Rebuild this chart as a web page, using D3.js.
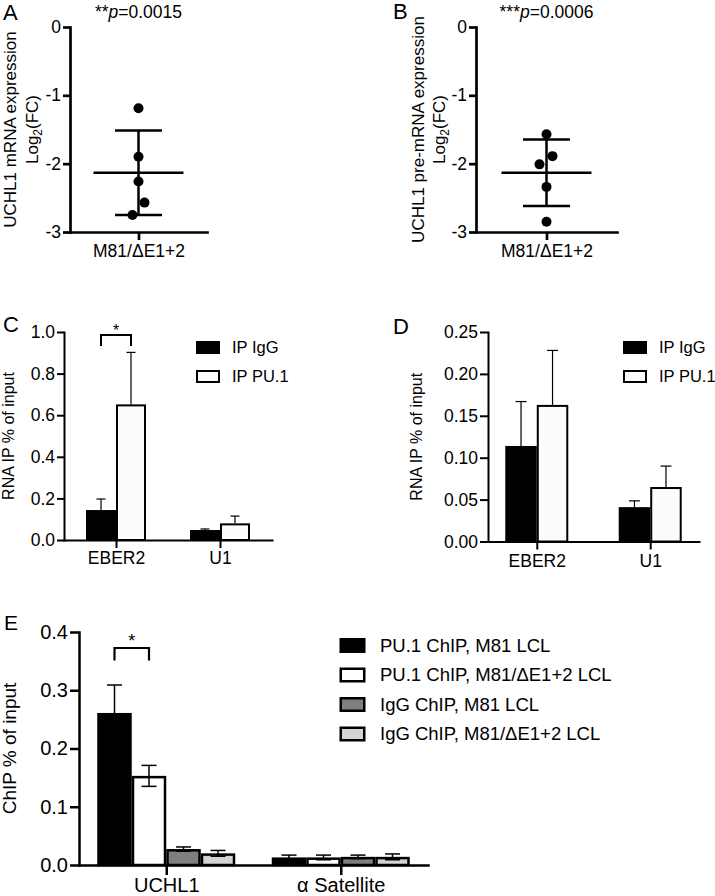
<!DOCTYPE html>
<html><head><meta charset="utf-8">
<script src="https://cdn.jsdelivr.net/npm/d3@7"></script>
<style>
body{margin:0;background:#fff;}
svg{display:block;font-family:"Liberation Sans", Arial, Helvetica, sans-serif;}
</style></head><body>
<svg id="fig" width="715" height="896"></svg>
<script>
// ---------------- DATA ----------------
const groupLabel = "M81/ΔE1+2";
const ticksAB = [0, -1, -2, -3];
const valuesA = [-1.19, -1.90, -2.26, -2.57, -2.75];
const valuesB = [-1.57, -1.89, -2.01, -2.34, -2.85];
const pTextA = ["**", "p", "=0.0015"];
const pTextB = ["***", "p", "=0.0006"];
const titleA = ["UCHL1 mRNA expression", "Log", "2", "(FC)"];
const titleB = ["UCHL1 pre-mRNA expression", "Log", "2", "(FC)"];

const categoriesCD = ["EBER2", "U1"];
const seriesCD = ["IP IgG", "IP PU.1"];
const cIgG = [0.144, 0.048];
const cIgGErr = [0.053, 0.005];
const cPU1 = [0.652, 0.080];
const cPU1Err = [0.250, 0.035];
const ticksC = [0, 0.2, 0.4, 0.6, 0.8, 1.0];

const dIgG = [0.114, 0.041];
const dIgGErr = [0.053, 0.0075];
const dPU1 = [0.163, 0.065];
const dPU1Err = [0.065, 0.025];
const ticksD = [0, 0.05, 0.10, 0.15, 0.20, 0.25];
const titleCD = "RNA IP % of input";

const categoriesE = ["UCHL1", "α Satellite"];
const seriesE = ["PU.1 ChIP, M81 LCL", "PU.1 ChIP, M81/ΔE1+2 LCL", "IgG ChIP, M81 LCL", "IgG ChIP, M81/ΔE1+2 LCL"];
const ePU1M81 = [0.261, 0.013];
const ePU1M81Err = [0.048, 0.004];
const ePU1Del = [0.153, 0.013];
const ePU1DelErr = [0.018, 0.004];
const eIgGM81 = [0.0274, 0.014];
const eIgGM81Err = [0.0036, 0.003];
const eIgGDel = [0.020, 0.014];
const eIgGDelErr = [0.005, 0.005];
const ticksE = [0, 0.1, 0.2, 0.3, 0.4];
const titleE = "ChIP % of input";

// significance annotations: category, bracket top value, bracket foot value
const sigC = {cat: "EBER2", top: 0.985, foot: 0.933, label: "*"};
const sigE = {cat: "UCHL1", top: 0.3725, foot: 0.351, label: "*"};

// ---------------- LAYOUT / STYLE ----------------
const jitterA = [0, 0, 0, 6, -6];
const jitterB = [0, 6, -7, 0, 0];
const svg = d3.select("#fig");

function styleAxis(g, w, fs) {
  g.selectAll(".domain").attr("stroke", "#000").attr("stroke-width", w).attr("stroke-linecap", "square");
  g.selectAll(".tick line").attr("stroke", "#000").attr("stroke-width", w);
  g.selectAll(".tick text").attr("fill", "#000").attr("font-size", fs).attr("font-family", null);
}

function letter(t, x, y, fs) {
  svg.append("text").attr("x", x).attr("y", y).attr("font-size", fs).text(t);
}

// ---------- Scatter panels (A, B) ----------
function scatterPanel(o) {
  const y = d3.scaleLinear().domain([-3, 0]).range([232, 27]);
  const x = d3.scalePoint().domain([groupLabel]).range([o.x0, o.x1]).padding(0.5);
  const g = svg.append("g");
  const ya = g.append("g").attr("transform", `translate(${o.x0},0)`)
    .call(d3.axisLeft(y).tickValues(ticksAB).tickFormat(d => String(d)).tickSize(7).tickSizeOuter(0).tickPadding(2));
  styleAxis(ya, 2.7, 17.5);
  const xa = g.append("g").attr("transform", `translate(0,232)`)
    .call(d3.axisBottom(x).tickSize(8).tickSizeOuter(0).tickPadding(5));
  styleAxis(xa, 2.7, 17.5);

  const cx = x(groupLabel);
  const m = d3.mean(o.values), sd = d3.deviation(o.values);
  g.append("line").attr("x1", cx).attr("x2", cx).attr("y1", y(m + sd)).attr("y2", y(m - sd))
    .attr("stroke", "#000").attr("stroke-width", 2.5);
  g.append("line").attr("x1", cx - 45).attr("x2", cx + 45).attr("y1", y(m)).attr("y2", y(m))
    .attr("stroke", "#000").attr("stroke-width", 2.6);
  [m + sd, m - sd].forEach(v => g.append("line").attr("x1", cx - 23.5).attr("x2", cx + 23.5)
    .attr("y1", y(v)).attr("y2", y(v)).attr("stroke", "#000").attr("stroke-width", 2.5));
  g.selectAll("circle.pt").data(o.values).join("circle").attr("class", "pt")
    .attr("cx", (d, i) => cx + o.jitter[i]).attr("cy", d => y(d)).attr("r", 5).attr("fill", "#000");

  const p = g.append("text").attr("x", cx).attr("y", 18).attr("text-anchor", "middle").attr("font-size", 17.5);
  p.append("tspan").text(o.p[0]);
  p.append("tspan").attr("font-style", "italic").text(o.p[1]);
  p.append("tspan").text(o.p[2]);

  g.append("text").attr("transform", `translate(${o.t1},129.5) rotate(-90)`)
    .attr("text-anchor", "middle").attr("font-size", 17).text(o.title[0]);
  const t2 = g.append("text").attr("transform", `translate(${o.t2},129.5) rotate(-90)`)
    .attr("text-anchor", "middle").attr("font-size", 17);
  t2.append("tspan").text(o.title[1]);
  t2.append("tspan").attr("font-size", 12).attr("dy", 4).text(o.title[2]);
  t2.append("tspan").attr("dy", -4).text(o.title[3]);
}

scatterPanel({x0: 70, x1: 207, values: valuesA, jitter: jitterA, p: pTextA, title: titleA, t1: 16, t2: 37.5});
scatterPanel({x0: 476, x1: 617, values: valuesB, jitter: jitterB, p: pTextB, title: titleB, t1: 423.5, t2: 445});
letter("A", 3, 20, 22);
letter("B", 393, 19, 22);

// ---------- Bar panels (C, D, E) ----------
function barPanel(o) {
  const y = d3.scaleLinear().domain([0, o.ticks[o.ticks.length - 1]]).range([o.yb, o.yt]);
  const x = d3.scalePoint().domain(o.cats).range([o.x0, o.x1]).padding(o.pad);
  const xs = d3.scaleBand().domain(o.series.map(s => s.name)).range([-o.gw / 2, o.gw / 2]).padding(0);
  const g = svg.append("g");

  o.series.forEach(s => {
    g.selectAll(null).data(o.cats).join("rect")
      .attr("x", c => x(c) + xs(s.name) + o.bs / 2)
      .attr("width", xs.bandwidth() - o.bs)
      .attr("y", (c, i) => y(s.values[i]) + o.bs / 2)
      .attr("height", (c, i) => Math.max(0, y(0) - y(s.values[i]) - o.bs / 2))
      .attr("fill", s.fill).attr("stroke", "#000").attr("stroke-width", o.bs);
  });
  o.series.forEach(s => {
    o.cats.forEach((c, i) => {
      const cx = x(c) + xs(s.name) + xs.bandwidth() / 2;
      const v = s.values[i], e = s.errs[i];
      const lo = o.both ? v - e : v;
      g.append("line").attr("x1", cx).attr("x2", cx).attr("y1", y(lo)).attr("y2", y(v + e))
        .attr("stroke", "#000").attr("stroke-width", o.ew);
      g.append("line").attr("x1", cx - o.cap / 2).attr("x2", cx + o.cap / 2).attr("y1", y(v + e)).attr("y2", y(v + e))
        .attr("stroke", "#000").attr("stroke-width", o.ew);
      if (o.both) g.append("line").attr("x1", cx - o.cap / 2).attr("x2", cx + o.cap / 2).attr("y1", y(lo)).attr("y2", y(lo))
        .attr("stroke", "#000").attr("stroke-width", o.ew);
    });
  });

  const ya = g.append("g").attr("transform", `translate(${o.x0},0)`)
    .call(d3.axisLeft(y).tickValues(o.ticks).tickFormat(d3.format(o.fmt)).tickSize(o.yts).tickSizeOuter(0).tickPadding(2));
  styleAxis(ya, o.aw, o.fsT);
  const xa = g.append("g").attr("transform", `translate(0,${o.yb})`)
    .call(d3.axisBottom(x).tickSize(o.xts).tickSizeOuter(0).tickPadding(o.xtp));
  styleAxis(xa, o.aw, o.fsC);

  g.append("text").attr("transform", `translate(${o.tx},${(o.yb + o.yt) / 2}) rotate(-90)`)
    .attr("text-anchor", "middle").attr("font-size", o.fsY).text(o.title);

  o.series.forEach((s, i) => {
    const ly = o.ly + i * o.lstep;
    g.append("rect").attr("x", o.lx + o.lbs / 2).attr("y", ly + o.lbs / 2).attr("width", o.lw - o.lbs).attr("height", o.lh - o.lbs)
      .attr("fill", s.fill).attr("stroke", "#000").attr("stroke-width", o.lbs);
    g.append("text").attr("x", o.ltx).attr("y", ly + o.lh / 2).attr("dy", "0.35em").attr("font-size", o.fsL).text(s.name);
  });

  if (o.sig) {
    const c = o.sig.cat;
    const xa1 = x(c) + xs(o.series[0].name) + xs.bandwidth() / 2;
    const xa2 = x(c) + xs(o.series[1].name) + xs.bandwidth() / 2;
    g.append("path").attr("d", `M${xa1},${y(o.sig.foot)}V${y(o.sig.top)}H${xa2}V${y(o.sig.foot)}`)
      .attr("fill", "none").attr("stroke", "#000").attr("stroke-width", o.sw);
    g.append("text").attr("x", (xa1 + xa2) / 2).attr("y", y(o.sig.top) + o.starDy).attr("text-anchor", "middle")
      .attr("font-size", o.fsS).text(o.sig.label);
  }
}

barPanel({
  x0: 64, x1: 272, yb: 540, yt: 332, ticks: ticksC, fmt: ".1f", cats: categoriesCD, pad: 0.5, gw: 60,
  series: [{name: seriesCD[0], values: cIgG, errs: cIgGErr, fill: "#000"},
           {name: seriesCD[1], values: cPU1, errs: cPU1Err, fill: "#fcfcfc"}],
  bs: 2, ew: 1.2, cap: 9, both: false, aw: 2, fsT: 17.5, fsC: 17.5, yts: 7, xts: 8, xtp: 4,
  title: titleCD, tx: 14, fsY: 16,
  lx: 196, ly: 341, lstep: 29, lw: 24, lh: 13, lbs: 2, ltx: 232, fsL: 16.5,
  sig: sigC, sw: 2, starDy: 1, fsS: 16
});
letter("C", 3, 332, 22);

barPanel({
  x0: 488, x1: 699, yb: 541.5, yt: 332, ticks: ticksD, fmt: ".2f", cats: categoriesCD, pad: 0.43, gw: 63,
  series: [{name: seriesCD[0], values: dIgG, errs: dIgGErr, fill: "#000"},
           {name: seriesCD[1], values: dPU1, errs: dPU1Err, fill: "#fcfcfc"}],
  bs: 2, ew: 1.2, cap: 11, both: false, aw: 2, fsT: 17.5, fsC: 17.5, yts: 8, xts: 8, xtp: 5,
  title: titleCD, tx: 422, fsY: 16,
  lx: 623, ly: 341, lstep: 29, lw: 24, lh: 13, lbs: 2, ltx: 659, fsL: 16.5
});
letter("D", 393, 334, 22);

barPanel({
  x0: 79, x1: 428, yb: 865, yt: 632, ticks: ticksE, fmt: ".1f", cats: categoriesE, pad: 0.5, gw: 138,
  series: [{name: seriesE[0], values: ePU1M81, errs: ePU1M81Err, fill: "#000"},
           {name: seriesE[1], values: ePU1Del, errs: ePU1DelErr, fill: "#fff"},
           {name: seriesE[2], values: eIgGM81, errs: eIgGM81Err, fill: "#7f7f7f"},
           {name: seriesE[3], values: eIgGDel, errs: eIgGDelErr, fill: "#d4d4d4"}],
  bs: 2.5, ew: 1.5, cap: 15, both: true, aw: 2.5, fsT: 20, fsC: 20, yts: 9, xts: 10, xtp: 3,
  title: titleE, tx: 16, fsY: 19,
  lx: 339.5, ly: 638, lstep: 29.5, lw: 26, lh: 15, lbs: 2.5, ltx: 380, fsL: 18.5,
  sig: sigE, sw: 2.2, starDy: -1, fsS: 18
});
letter("E", 4, 630, 21);
</script>
</body></html>
